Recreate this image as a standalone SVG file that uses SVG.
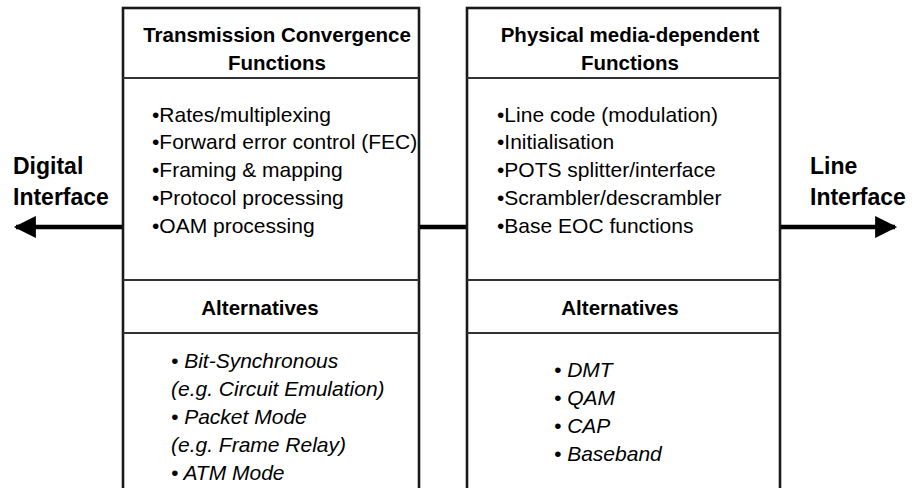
<svg xmlns="http://www.w3.org/2000/svg" width="914" height="488" viewBox="0 0 914 488">
  <style>
    .box { fill: #fff; stroke: #1a1a1a; stroke-width: 2.6; }
    .div { stroke: #333; stroke-width: 2; fill: none; }
    .link { stroke: #000; stroke-width: 4.5; fill: none; }
    .head { font-family: "Liberation Sans", Arial, sans-serif; font-weight: bold; font-size: 20.5px; fill: #000; text-anchor: middle; }
    .side { font-family: "Liberation Sans", Arial, sans-serif; font-weight: bold; font-size: 23px; fill: #000; }
    .item { font-family: "Liberation Sans", Arial, sans-serif; font-size: 21px; fill: #000; }
    .alt { font-family: "Liberation Sans", Arial, sans-serif; font-style: italic; font-size: 21px; fill: #000; }
  </style>
  <defs>
    <marker id="arrow" viewBox="0 0 10 10" refX="9" refY="5" markerWidth="7" markerHeight="4.9" markerUnits="strokeWidth" orient="auto">
      <path d="M0,0 L10,5 L0,10 Z" fill="#000"/>
    </marker>
  </defs>

  <rect width="914" height="488" fill="#fff"/>

  <!-- connectors -->
  <g id="connectors">
    <line class="link" x1="123" y1="227" x2="16" y2="227" marker-end="url(#arrow)"/>
    <line class="link" x1="419" y1="227" x2="467" y2="227"/>
    <line class="link" x1="780" y1="227" x2="895" y2="227" marker-end="url(#arrow)"/>
  </g>

  <!-- side labels -->
  <g id="digital-interface">
    <text class="side" x="13" y="174">Digital</text>
    <text class="side" x="13" y="205">Interface</text>
  </g>
  <g id="line-interface">
    <text class="side" x="810" y="174">Line</text>
    <text class="side" x="810" y="205">Interface</text>
  </g>

  <!-- transmission convergence block -->
  <g id="tc-block">
    <rect class="box" x="123" y="8" width="296" height="490"/>
    <line class="div" x1="123" y1="78" x2="419" y2="78"/>
    <line class="div" x1="123" y1="280" x2="419" y2="280"/>
    <line class="div" x1="123" y1="333" x2="419" y2="333"/>
    <text class="head" x="277" y="42">Transmission Convergence</text>
    <text class="head" x="277" y="70">Functions</text>
    <text class="item" x="152" y="122">•Rates/multiplexing</text>
    <text class="item" x="152" y="149">•Forward error control (FEC)</text>
    <text class="item" x="152" y="177">•Framing &amp; mapping</text>
    <text class="item" x="152" y="205">•Protocol processing</text>
    <text class="item" x="152" y="233">•OAM processing</text>
    <text class="head" x="260" y="315">Alternatives</text>
    <text class="alt" x="171" y="368">• Bit-Synchronous</text>
    <text class="alt" x="171" y="396">(e.g. Circuit Emulation)</text>
    <text class="alt" x="171" y="424">• Packet Mode</text>
    <text class="alt" x="171" y="452">(e.g. Frame Relay)</text>
    <text class="alt" x="171" y="480">• ATM Mode</text>
  </g>

  <!-- physical media-dependent block -->
  <g id="pmd-block">
    <rect class="box" x="467" y="8" width="313" height="490"/>
    <line class="div" x1="467" y1="78" x2="780" y2="78"/>
    <line class="div" x1="467" y1="280" x2="780" y2="280"/>
    <line class="div" x1="467" y1="333" x2="780" y2="333"/>
    <text class="head" x="630" y="42">Physical media-dependent</text>
    <text class="head" x="630" y="70">Functions</text>
    <text class="item" x="497" y="122">•Line code (modulation)</text>
    <text class="item" x="497" y="149">•Initialisation</text>
    <text class="item" x="497" y="177">•POTS splitter/interface</text>
    <text class="item" x="497" y="205">•Scrambler/descrambler</text>
    <text class="item" x="497" y="233">•Base EOC functions</text>
    <text class="head" x="620" y="315">Alternatives</text>
    <text class="alt" x="554" y="377">• DMT</text>
    <text class="alt" x="554" y="405">• QAM</text>
    <text class="alt" x="554" y="433">• CAP</text>
    <text class="alt" x="554" y="461">• Baseband</text>
  </g>
</svg>
